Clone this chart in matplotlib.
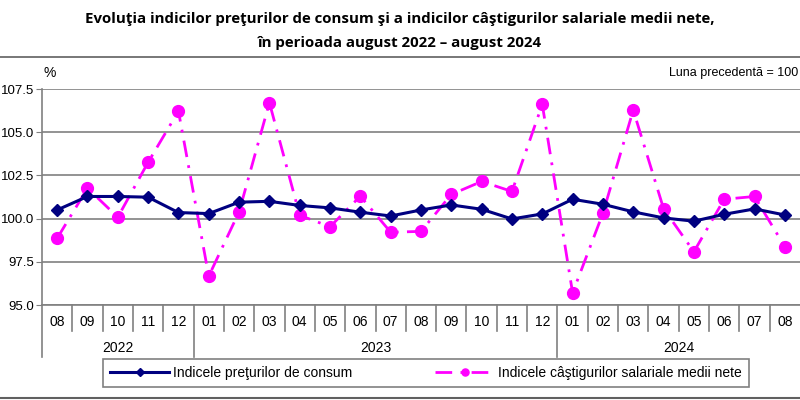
from matplotlib import pyplot as plt
from matplotlib.lines import Line2D
import matplotlib.transforms as mtransforms

plt.rcParams['font.family'] = ['Liberation Sans', 'DejaVu Sans']

# months Aug 2022 - Aug 2024
months = ['08', '09', '10', '11', '12',
          '01', '02', '03', '04', '05', '06', '07', '08', '09', '10', '11', '12',
          '01', '02', '03', '04', '05', '06', '07', '08']
years = ['2022', '2023', '2024']
year_counts = [5, 12, 8]

# consumer price index, previous month = 100
ipc = [100.50, 101.28, 101.28, 101.24, 100.35,
       100.29, 100.95, 101.00, 100.76, 100.62, 100.37, 100.15, 100.50, 100.79, 100.54, 99.98, 100.27,
       101.12, 100.83, 100.39, 100.04, 99.85, 100.25, 100.56, 100.21]
# average net wage index, previous month = 100
salarii = [98.86, 101.76, 100.08, 103.26, 106.22,
           96.67, 100.39, 106.71, 100.19, 99.53, 101.30, 99.21, 99.26, 101.40, 102.15, 101.57, 106.61,
           95.70, 100.31, 106.28, 100.58, 98.08, 101.12, 101.28, 98.37]

yticks = [95.0, 97.5, 100.0, 102.5, 105.0, 107.5]

navy = '#000080'
magenta = '#FF00FF'

fig = plt.figure(figsize=(8, 4), dpi=100)
ax = fig.add_axes([0.0525, 0.2375, 0.9475, 0.54])

x = list(range(len(months)))
ax.plot(x, ipc, color=navy, lw=2.2, marker='D', markersize=6.5, zorder=4,
        label='Indicele preţurilor de consum')
ax.plot(x, salarii, color=magenta, lw=2.0, marker='o', markersize=8.5,
        linestyle=(0, (6, 3, 1, 3)), zorder=3,
        label='Indicele câştigurilor salariale medii nete')

ax.set_xlim(-0.5, len(months) - 0.5)
ax.set_ylim(95, 107.5)
ax.set_yticks(yticks)
ax.set_yticklabels([f'{v:.1f}' for v in yticks], fontsize=9.5)
ax.tick_params(axis='y', length=4, color='#808080', pad=1.5)
ax.tick_params(axis='x', bottom=False, labelbottom=False)
ax.grid(axis='y', color='#808080', lw=1.2)
for s in ['top', 'right', 'bottom']:
    ax.spines[s].set_visible(False)
ax.spines['left'].set_color('#808080')
ax.spines['left'].set_linewidth(1.2)
ax.axhline(95, color='#808080', lw=1.2, zorder=2, clip_on=False)

# two-level category axis
trans = mtransforms.blended_transform_factory(ax.transData, fig.transFigure)
y0 = 1 - 305 / 400
for i, m in enumerate(months):
    ax.text(i, 1 - 322 / 400, m, transform=trans, ha='center', va='center', fontsize=10)
edges = [0]
for c in year_counts:
    edges.append(edges[-1] + c)
for i in range(len(months)):
    bottom = 1 - 357 / 400 if i in edges else 1 - 331 / 400
    ax.plot([i - 0.5, i - 0.5], [y0, bottom], transform=trans, color='#808080',
            lw=1.2, clip_on=False)
for k, yr in enumerate(years):
    mid = (edges[k] + edges[k + 1] - 1) / 2
    ax.text(mid, 1 - 348 / 400, yr, transform=trans, ha='center', va='center', fontsize=10)

# title and notes
title_font = ['Open Sans', 'DejaVu Sans']
fig.text(0.5, 1 - 19 / 400, 'Evoluţia indicilor preţurilor de consum şi a indicilor câştigurilor salariale medii nete,',
         ha='center', va='center', fontsize=10.8, fontweight='bold', family=title_font)
fig.text(0.5, 1 - 43 / 400, 'în perioada august 2022 – august 2024',
         ha='center', va='center', fontsize=10.8, fontweight='bold', family=title_font)
fig.add_artist(Line2D([0, 1], [1 - 57 / 400, 1 - 57 / 400], color='#606060', lw=1.2))
fig.add_artist(Line2D([0, 1], [1 - 398 / 400, 1 - 398 / 400], color='#606060', lw=1.5))
fig.text(43 / 800, 1 - 73 / 400, '%', ha='left', va='center', fontsize=10)
fig.text(0.998, 1 - 73 / 400, 'Luna precedentă = 100', ha='right', va='center', fontsize=9)

leg = fig.legend(loc='center', bbox_to_anchor=(426 / 800, 1 - 373 / 400), ncol=2,
                 fontsize=10, frameon=True, fancybox=False, edgecolor='#606060',
                 handlelength=4.2, handletextpad=0.3, columnspacing=6.0,
                 borderpad=0.5, markerscale=0.6, borderaxespad=0)
leg.get_frame().set_linewidth(1.2)

fig.savefig('out.png', dpi=100)
